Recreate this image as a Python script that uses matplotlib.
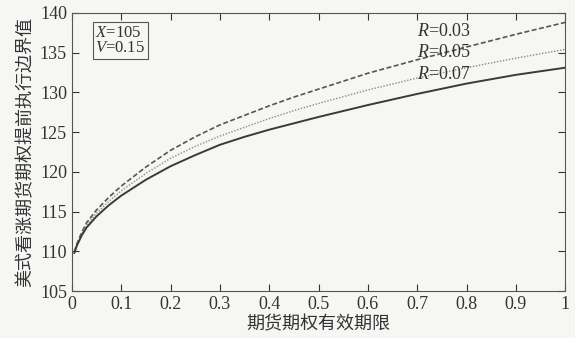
import matplotlib
matplotlib.use("Agg")
from matplotlib import pyplot as plt

plt.rcParams["mathtext.fontset"] = "custom"
plt.rcParams["mathtext.rm"] = "Liberation Serif"
plt.rcParams["mathtext.it"] = "Liberation Serif:italic"

# maturity (years) and early-exercise boundary for three rates
t = [0.005, 0.01, 0.02, 0.03, 0.05, 0.075, 0.1, 0.15, 0.2, 0.25, 0.3, 0.35,
     0.4, 0.45, 0.5, 0.6, 0.7, 0.8, 0.9, 1.0]
b_r03 = [109.9, 110.9, 112.4, 113.6, 115.2, 116.8, 118.2, 120.6, 122.7, 124.4,
         125.9, 127.1, 128.3, 129.4, 130.4, 132.4, 134.1, 135.7, 137.3, 138.8]
b_r05 = [109.8, 110.8, 112.2, 113.3, 114.8, 116.3, 117.6, 119.8, 121.7, 123.2,
         124.5, 125.6, 126.7, 127.7, 128.6, 130.3, 131.8, 133.1, 134.3, 135.4]
b_r07 = [109.8, 110.7, 112.0, 113.0, 114.4, 115.8, 117.0, 119.0, 120.7, 122.1,
         123.4, 124.4, 125.3, 126.1, 126.9, 128.4, 129.8, 131.1, 132.2, 133.1]
labels = ["0.03", "0.05", "0.07"]

xticks = [0, 0.1, 0.2, 0.3, 0.4, 0.5, 0.6, 0.7, 0.8, 0.9, 1]
xticklabels = ["0", "0.1", "0.2", "0.3", "0.4", "0.5", "0.6", "0.7", "0.8", "0.9", "1"]
yticks = [105, 110, 115, 120, 125, 130, 135, 140]

bg = "#f6f6f4"
fig = plt.figure(figsize=(5.75, 3.38), dpi=100, facecolor=bg)
ax = fig.add_axes([0.125, 0.139, 0.858, 0.823], facecolor=bg)

ax.plot(t, b_r03, linestyle=(0, (3, 1.5)), color="#555555", lw=1.2)
ax.plot(t, b_r05, linestyle=(0, (1, 1.2)), color="#8a8a8a", lw=1.0)
ax.plot(t, b_r07, linestyle="-", color="#3a3a3a", lw=1.4)

ax.set_xlim(0, 1)
ax.set_ylim(105, 140)
ax.set_xticks(xticks)
ax.set_xticklabels(xticklabels)
ax.set_yticks(yticks)
ax.tick_params(direction="in", top=True, right=True, length=5, width=0.8,
               labelsize=13, colors="#333333")
for lab in ax.get_xticklabels() + ax.get_yticklabels():
    lab.set_fontfamily("Liberation Serif")
for s in ax.spines.values():
    s.set_color("#555555")
    s.set_linewidth(0.8)

serif = "Liberation Serif"
for lab, yv in zip(labels, [137.6, 135.0, 132.3]):
    ax.text(0.70, yv, "$R$=" + lab, fontsize=13, family=serif,
            color="#333333", va="center", ha="left")

ax.text(0.047, 136.5, "$X$=105\n$V$=0.15", fontsize=12,
        family=serif, color="#333333", va="center", ha="left", linespacing=0.95,
        bbox=dict(boxstyle="square,pad=0.15", fc=bg, ec="#555555", lw=0.8))

ax.set_xlabel("期货期权有效期限", family=["Noto Sans CJK SC", "DejaVu Sans"],
              fontsize=13, color="#333333", labelpad=2)
ax.set_ylabel("美式看涨期货期权提前执行边界值", family=["Noto Sans CJK SC", "DejaVu Sans"],
              fontsize=13, color="#333333", labelpad=4)

fig.savefig("out.png", dpi=100, facecolor=bg)
